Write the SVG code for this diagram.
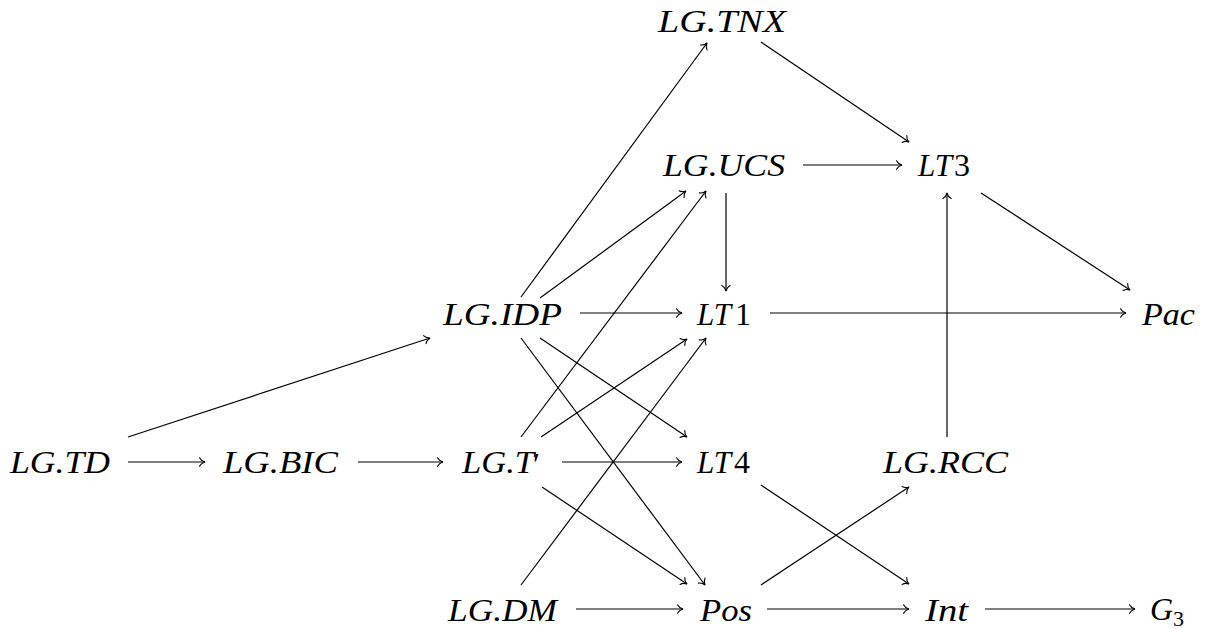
<svg xmlns="http://www.w3.org/2000/svg" width="1217" height="629" viewBox="0 0 1217 629">
  <style>
    .lbl { font-family: "Liberation Serif", "Times New Roman", serif; font-style: italic; font-size: 32px; fill: #000; }
    .num { font-family: "Liberation Serif", "Times New Roman", serif; font-style: normal; font-size: 32px; fill: #000; }
    .sub { font-family: "Liberation Serif", "Times New Roman", serif; font-style: normal; font-size: 22px; fill: #000; }
    .edge { stroke: #000; stroke-width: 1.2; fill: none; marker-end: url(#to); }
  </style>
  <defs>
    <!-- open "to"-style arrow tip -->
    <marker id="to" markerUnits="userSpaceOnUse" markerWidth="12" markerHeight="12" viewBox="-7 -6 8 12" refX="0" refY="0" orient="auto" overflow="visible">
      <path d="M-5.5,-4.2 C-4.2,-1.6 -1.6,-0.4 0,0 C-1.6,0.4 -4.2,1.6 -5.5,4.2" fill="none" stroke="#000" stroke-width="1.1" stroke-linecap="round"/>
    </marker>
  </defs>

  <!-- nodes -->
  <g id="LG.TNX"><text class="lbl" x="658" y="32" textLength="128" lengthAdjust="spacingAndGlyphs">LG.TNX</text></g>
  <g id="LG.UCS"><text class="lbl" x="663" y="176" textLength="122" lengthAdjust="spacingAndGlyphs">LG.UCS</text></g>
  <g id="LT3"><text class="lbl" x="918" y="176" textLength="34" lengthAdjust="spacingAndGlyphs">LT</text><text class="num" x="954" y="176">3</text></g>
  <g id="LG.IDP"><text class="lbl" x="443" y="325" textLength="119" lengthAdjust="spacingAndGlyphs">LG.IDP</text></g>
  <g id="LT1"><text class="lbl" x="697" y="325" textLength="34" lengthAdjust="spacingAndGlyphs">LT</text><text class="num" x="735" y="325">1</text></g>
  <g id="Pac"><text class="lbl" x="1142" y="325" textLength="53" lengthAdjust="spacingAndGlyphs">Pac</text></g>
  <g id="LG.TD"><text class="lbl" x="10" y="473" textLength="100" lengthAdjust="spacingAndGlyphs">LG.TD</text></g>
  <g id="LG.BIC"><text class="lbl" x="223" y="473" textLength="115" lengthAdjust="spacingAndGlyphs">LG.BIC</text></g>
  <g id="LG.T-prime"><text class="lbl" x="462" y="473" textLength="72" lengthAdjust="spacingAndGlyphs">LG.T</text><text class="num" x="533" y="475" font-size="46">′</text></g>
  <g id="LT4"><text class="lbl" x="697" y="473" textLength="34" lengthAdjust="spacingAndGlyphs">LT</text><text class="num" x="734" y="473">4</text></g>
  <g id="LG.RCC"><text class="lbl" x="883" y="473" textLength="125" lengthAdjust="spacingAndGlyphs">LG.RCC</text></g>
  <g id="LG.DM"><text class="lbl" x="448" y="621" textLength="109" lengthAdjust="spacingAndGlyphs">LG.DM</text></g>
  <g id="Pos"><text class="lbl" x="700" y="621" textLength="52" lengthAdjust="spacingAndGlyphs">Pos</text></g>
  <g id="Int"><text class="lbl" x="925" y="621" textLength="43" lengthAdjust="spacingAndGlyphs">Int</text></g>
  <g id="G3"><text class="lbl" x="1150" y="620">G</text><text class="sub" x="1173" y="626">3</text></g>

  <!-- connectors -->
  <g id="connectors">
    <line class="edge" x1="128" y1="462" x2="205" y2="462"/>
    <line class="edge" x1="358" y1="462" x2="443" y2="462"/>
    <line class="edge" x1="562" y1="462" x2="682" y2="462"/>
    <line class="edge" x1="576" y1="609" x2="683" y2="609"/>
    <line class="edge" x1="767" y1="609" x2="909" y2="609"/>
    <line class="edge" x1="985" y1="609" x2="1135" y2="609"/>
    <line class="edge" x1="580" y1="313" x2="682" y2="313"/>
    <line class="edge" x1="770" y1="313" x2="1126" y2="313"/>
    <line class="edge" x1="803" y1="165" x2="902" y2="165"/>
    <line class="edge" x1="128" y1="437" x2="430" y2="338"/>
    <line class="edge" x1="521" y1="297" x2="707" y2="43"/>
    <line class="edge" x1="540" y1="298" x2="686" y2="191"/>
    <line class="edge" x1="726" y1="193" x2="726" y2="291"/>
    <line class="edge" x1="761" y1="42" x2="909" y2="142"/>
    <line class="edge" x1="981" y1="193" x2="1130" y2="290"/>
    <line class="edge" x1="947" y1="437" x2="947" y2="193"/>
    <line class="edge" x1="540" y1="338" x2="687" y2="437"/>
    <line class="edge" x1="521" y1="338" x2="705" y2="585"/>
    <line class="edge" x1="541" y1="437" x2="687" y2="339"/>
    <line class="edge" x1="521" y1="437" x2="706" y2="191"/>
    <line class="edge" x1="521" y1="585" x2="706" y2="338"/>
    <line class="edge" x1="542" y1="487" x2="687" y2="584"/>
    <line class="edge" x1="761" y1="485" x2="909" y2="584"/>
    <line class="edge" x1="761" y1="585" x2="909" y2="487"/>
  </g>
</svg>
